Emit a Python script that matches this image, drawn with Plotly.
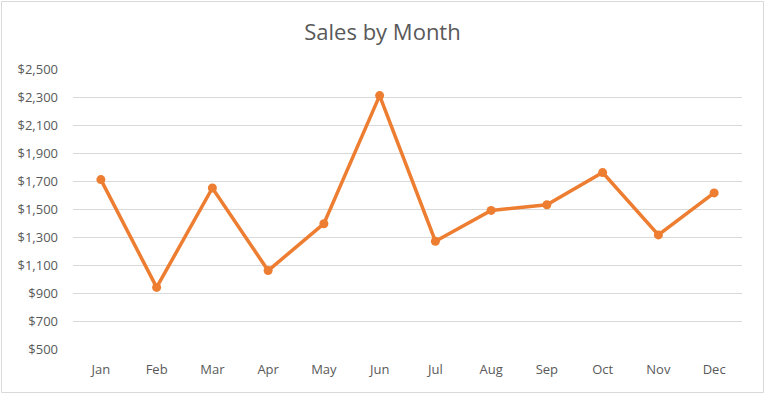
import plotly.graph_objects as go

months = ["Jan", "Feb", "Mar", "Apr", "May", "Jun", "Jul", "Aug", "Sep", "Oct", "Nov", "Dec"]
sales = [1710, 940, 1650, 1060, 1395, 2310, 1270, 1490, 1530, 1760, 1315, 1615]
y_ticks = list(range(500, 2501, 200))
y_tick_labels = [f"${v:,}" for v in y_ticks]

W, H = 765, 394
L, R, T, B = 73, 23, 69, 45
pw, ph = W - L - R, H - T - B

fig = go.Figure()
fig.add_trace(go.Scatter(
    x=months, y=sales, mode="lines+markers",
    line=dict(color="#ED7D31", width=3.5),
    marker=dict(color="#ED7D31", size=9),
    hoverinfo="x+y",
))

fig.update_layout(
    width=W, height=H,
    margin=dict(l=L, r=R, t=T, b=B),
    paper_bgcolor="white", plot_bgcolor="white",
    showlegend=False,
    font=dict(family="Open Sans, sans-serif", color="#595959", size=13),
    title=dict(text="Sales by Month", x=0.5, xanchor="center", y=1 - 32 / H, yanchor="middle",
               font=dict(size=22, color="#595959")),
    xaxis=dict(range=[-0.5, len(months) - 0.5], showgrid=False, showline=False, zeroline=False,
               ticks="", automargin=False,
               tickfont=dict(size=13, color="#595959"), ticklabelstandoff=11),
    yaxis=dict(range=[500, 2500], tickvals=y_ticks, ticktext=y_tick_labels, automargin=False,
               showgrid=True, gridcolor="#D9D9D9", gridwidth=1, zeroline=False,
               showline=False, ticks="", tickfont=dict(size=13, color="#595959"),
               ticklabelstandoff=14),
    shapes=[dict(type="rect", xref="paper", yref="paper",
                 x0=(1.5 - L) / pw, x1=(W - 1.5 - L) / pw,
                 y0=-(B - 1.5) / ph, y1=1 + (T - 1.5) / ph,
                 line=dict(color="#D9D9D9", width=1), layer="below")],
)

fig.write_html("out.html", config={"displayModeBar": False},
               post_script="document.body.style.margin='0';document.body.style.overflow='hidden';")
